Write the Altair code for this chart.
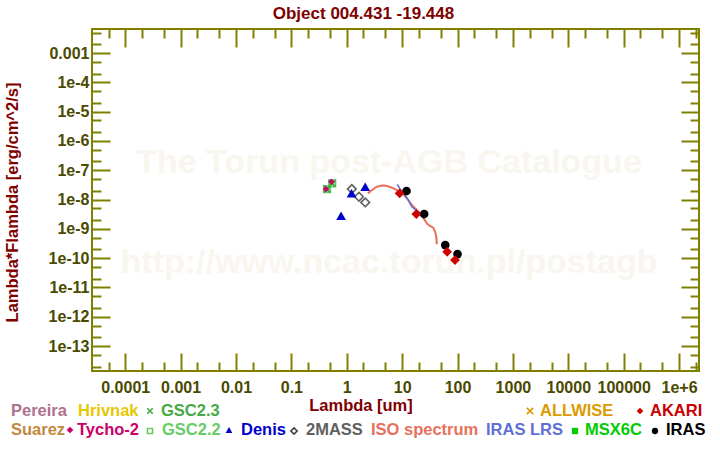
import altair as alt
import pandas as pd

# ---------------- data ----------------
TYCHO_WL = [0.42, 0.53]
TYCHO_F = [2.28e-8, 4.05e-8]
GSC23_WL = [0.44, 0.545]
GSC23_F = [2.28e-8, 3.57e-8]
GSC22_WL = [0.44, 0.545]
GSC22_F = [2.28e-8, 3.57e-8]
DENIS_WL = [0.79, 1.22, 2.15]
DENIS_F = [2.8e-9, 1.63e-8, 2.73e-8]
MASS_WL = [1.235, 1.66, 2.16]
MASS_F = [2.28e-8, 1.25e-8, 8.0e-9]
AKARI_WL = [9.0, 18.0, 65.0, 90.0]
AKARI_F = [1.63e-8, 3.2e-9, 1.65e-10, 8.6e-11]
IRAS_WL = [12.0, 25.0, 60.0, 100.0]
IRAS_F = [1.95e-8, 3.2e-9, 2.8e-10, 1.38e-10]
ISO_WL = [2.40, 2.87, 3.39, 4.01, 4.73, 5.29, 6.07, 6.97, 8.02, 9.20, 10.55, 12.2,
          13.9, 16.0, 18.4, 21.1, 24.2, 27.9, 30.7, 34.3, 37.0, 39.4, 41.1, 42.3,
          41.0, 42.0]
ISO_F = [1.63e-8, 2.11e-8, 2.67e-8, 2.96e-8, 3.0e-8, 2.89e-8, 2.67e-8, 2.41e-8,
         2.11e-8, 1.85e-8, 1.48e-8, 1.10e-8, 7.9e-9, 5.68e-9, 4.38e-9, 3.38e-9,
         2.34e-9, 1.54e-9, 1.30e-9, 1.18e-9, 1.06e-9, 7.96e-10, 5.68e-10, 3.0e-10,
         6.0e-10, 4.5e-10]
LRS_WL = [8.2, 9.2, 10.55, 11.8, 13.0, 13.9, 15.0, 17.2, 19.7, 22.6]
LRS_F = [3.30e-8, 2.28e-8, 1.63e-8, 1.22e-8, 9.6e-9, 7.3e-9, 5.7e-9, 4.56e-9,
         3.84e-9, 2.59e-9]

X_TICKS = [1e-4, 1e-3, 1e-2, 1e-1, 1, 10, 100, 1000, 1e4, 1e5, 1e6]
X_TICK_LABELS = ["0.0001", "0.001", "0.01", "0.1", "1", "10", "100", "1000",
                 "10000", "100000", "1e+6"]
Y_TICKS = [1e-13, 1e-12, 1e-11, 1e-10, 1e-9, 1e-8, 1e-7, 1e-6, 1e-5, 1e-4, 1e-3]
Y_TICK_LABELS = ["1e-13", "1e-12", "1e-11", "1e-10", "1e-9", "1e-8", "1e-7",
                 "1e-6", "1e-5", "1e-4", "0.001"]
MINOR_MULT = [1, 2, 5]

TITLE = "Object 004.431 -19.448"
X_TITLE = "Lambda [um]"
Y_TITLE = "Lambda*Flambda [erg/cm^2/s]"
WATERMARK = ["The Torun post-AGB Catalogue", "http://www.ncac.torun.pl/postagb"]

# ---------------- styling / layout ----------------
W, H = 607, 342
OX, OY = 92, 29
FONT = "Liberation Sans"
OLIVE = "#808000"
LABEL_C = "#4a4a00"
DARKRED = "#800000"

x_dom = [10 ** -4.6, 10 ** 6.36]
y_dom = [10 ** -13.85, 10 ** -2.18]
xs = alt.Scale(type="log", domain=x_dom, nice=False)
ys = alt.Scale(type="log", domain=y_dom, nice=False)

x_all = [m * t for t in [1e-5] + X_TICKS for m in MINOR_MULT if x_dom[0] <= m * t <= x_dom[1]]
y_all = [m * t for t in [1e-14] + Y_TICKS for m in MINOR_MULT if y_dom[0] <= m * t <= y_dom[1]]

major_test = "abs(log(datum.value)/LN10 - round(log(datum.value)/LN10)) < 0.01"
tick_size = {"condition": {"test": major_test, "value": 18}, "value": 9}


def df(wl, f):
    return pd.DataFrame({"wl": wl, "f": f, "i": list(range(len(wl)))})


def enc(chart):
    return chart.encode(
        x=alt.X("wl:Q", scale=xs, axis=None),
        y=alt.Y("f:Q", scale=ys, axis=None),
    )


dummy = pd.DataFrame({"wl": [1.0], "f": [1e-8]})

x_label_expr = "[" + ",".join("'%s'" % s for s in X_TICK_LABELS) + "][round(log(datum.value)/LN10)+4]"
y_label_expr = "[" + ",".join("'%s'" % s for s in Y_TICK_LABELS) + "][round(log(datum.value)/LN10)+13]"

axis_labels = alt.Chart(dummy).mark_point(opacity=0).encode(
    x=alt.X("wl:Q", scale=xs, axis=alt.Axis(
        orient="bottom", values=X_TICKS, labelExpr=x_label_expr, ticks=False, domain=False,
        grid=False, labelFont=FONT, labelFontSize=16, labelFontWeight="bold",
        labelColor=LABEL_C, labelPadding=8, labelFlush=False, labelOverlap=False,
        title=X_TITLE, titleFont=FONT, titleFontSize=16.5, titleFontWeight="bold",
        titleColor=DARKRED, titleX=W / 2 - 35, titleY=34, titleAlign="center",
        titleBaseline="middle", titleAnchor="start")),
    y=alt.Y("f:Q", scale=ys, axis=alt.Axis(
        orient="left", values=Y_TICKS, labelExpr=y_label_expr, ticks=False, domain=False,
        grid=False, labelFont=FONT, labelFontSize=16, labelFontWeight="bold",
        labelColor=LABEL_C, labelPadding=3, labelFlush=False, labelOverlap=False,
        title=Y_TITLE, titleFont=FONT, titleFontSize=16.5, titleFontWeight="bold",
        titleColor=DARKRED, titleAngle=270, titleX=-80, titleY=H / 2 + 2,
        titleAlign="center", titleBaseline="middle", titleAnchor="start")),
)


def tick_axis(xorient, xoff, yorient, yoff):
    return alt.Chart(dummy).mark_point(opacity=0).encode(
        x=alt.X("wl:Q", scale=xs, axis=alt.Axis(
            orient=xorient, offset=xoff, values=x_all, labels=False, domain=False,
            grid=False, tickColor=OLIVE, tickWidth=2, tickSize=tick_size, title=None)),
        y=alt.Y("f:Q", scale=ys, axis=alt.Axis(
            orient=yorient, offset=yoff, values=y_all, labels=False, domain=False,
            grid=False, tickColor=OLIVE, tickWidth=2, tickSize=tick_size, title=None)),
    )


# bottom-oriented axis lifted to the top edge (ticks point down, into the plot), etc.
ticks_a = tick_axis("bottom", -H, "right", -W)
ticks_b = tick_axis("top", -H, "left", -W)

# watermark
wm_layers = [
    alt.Chart(dummy).mark_text(font=FONT, fontSize=34, fontWeight="bold", color="#f9f6ef",
                               align="center", baseline="middle").encode(
        x=alt.value(297), y=alt.value(yy), text=alt.value(t))
    for t, yy in zip(WATERMARK, [134, 234])
]

iso = enc(alt.Chart(df(ISO_WL, ISO_F)).mark_line(color="#e8705c", strokeWidth=2)).encode(order="i:Q")
lrs = enc(alt.Chart(df(LRS_WL, LRS_F)).mark_line(color="#5f6fd6", strokeWidth=1.5)).encode(order="i:Q")
mass = enc(alt.Chart(df(MASS_WL, MASS_F)).mark_point(shape="diamond", filled=False, color="#606060", size=75, strokeWidth=1.6, opacity=1))
denis = enc(alt.Chart(df(DENIS_WL, DENIS_F)).mark_point(shape="triangle-up", filled=True, color="#0000cc", size=95, opacity=1))
gsc22 = enc(alt.Chart(df(GSC22_WL, GSC22_F)).mark_point(shape="square", filled=False, color="#66cc66", size=40, strokeWidth=2, opacity=1))
XPATH = "M-1,-1L1,1M-1,1L1,-1"
gsc23 = enc(alt.Chart(df(GSC23_WL, GSC23_F)).mark_point(shape=XPATH, filled=False, color="#44aa44", size=45, strokeWidth=2, opacity=1))
tycho = enc(alt.Chart(df(TYCHO_WL, TYCHO_F)).mark_point(shape="diamond", filled=True, color="#cc0066", size=40, opacity=1))
iras = enc(alt.Chart(df(IRAS_WL, IRAS_F)).mark_point(shape="circle", filled=True, color="#000000", size=75, opacity=1))
akari = enc(alt.Chart(df(AKARI_WL, AKARI_F)).mark_point(shape="diamond", filled=True, color="#cc0000", size=95, opacity=1))

# legend (absolute page pixels -> relative to plot origin)
LEG_ROW1 = [("Pereira", 11, "#b07090"), ("Hrivnak", 78, "#e6c800"), ("GSC2.3", 161, "#44aa44"),
            ("ALLWISE", 540, "#dc9a00"), ("AKARI", 650, "#cc0000")]
LEG_ROW2 = [("Suarez", 11, "#c08840"), ("Tycho-2", 77, "#cc0066"), ("GSC2.2", 162, "#66cc66"),
            ("Denis", 241, "#0000cc"), ("2MASS", 306, "#606060"), ("ISO spectrum", 371, "#e8705c"),
            ("IRAS LRS", 486, "#5f6fd6"), ("MSX6C", 585, "#00cc00"), ("IRAS", 666, "#000000")]
leg_rows = []
for items, yy in [(LEG_ROW1, 411), (LEG_ROW2, 430)]:
    for label, xx, c in items:
        leg_rows.append({"label": label, "lx": xx - OX, "ly": yy - OY, "c": c})
leg_df = pd.DataFrame(leg_rows)
legend_text = alt.Chart(leg_df).mark_text(font=FONT, fontSize=16.5, fontWeight="bold",
                                          align="left", baseline="middle").encode(
    x=alt.X("lx:Q", scale=None, axis=None), y=alt.Y("ly:Q", scale=None, axis=None),
    text="label:N", color=alt.Color("c:N", scale=None, legend=None))

LEG_SYMS = [
    (XPATH, False, "#44aa44", 150, 411, 30),
    (XPATH, False, "#dc9a00", 530, 411, 40),
    ("diamond", True, "#cc0000", 640, 411, 45),
    ("diamond", True, "#cc0066", 70, 430, 45),
    ("square", False, "#66cc66", 150, 431, 25),
    ("triangle-up", True, "#0000cc", 229, 430, 45),
    ("diamond", False, "#404040", 294, 431, 40),
    ("square", True, "#00cc00", 575, 431, 40),
    ("circle", True, "#000000", 655, 431, 40),
]
sym_layers = []
for shp, fill, c, xx, yy, sz in LEG_SYMS:
    sym_layers.append(alt.Chart(dummy).mark_point(shape=shp, filled=fill, color=c, size=sz,
                                                  strokeWidth=1.6, opacity=1).encode(
        x=alt.value(xx - OX), y=alt.value(yy - OY)))

# chart title as a text mark placed above the frame
title_layer = alt.Chart(dummy).mark_text(font=FONT, fontSize=17, fontWeight="bold", color=DARKRED,
                                         align="center", baseline="middle").encode(
    x=alt.value(363.5 - OX), y=alt.value(14 - OY), text=alt.value(TITLE))

chart = alt.layer(
    *wm_layers, axis_labels, ticks_a, ticks_b,
    iso, lrs, mass, denis, gsc22, gsc23, tycho, iras, akari,
    legend_text, *sym_layers, title_layer
).resolve_axis(x="independent", y="independent").properties(
    width=W, height=H,
    autosize=alt.AutoSizeParams(type="none"),
    padding={"left": OX, "top": OY, "right": 720 - OX - W, "bottom": 450 - OY - H},
    background="white",
).configure_view(stroke=OLIVE, strokeWidth=2, fill="white")

chart.save("out.html", embed_options={"renderer": "svg", "actions": False})
